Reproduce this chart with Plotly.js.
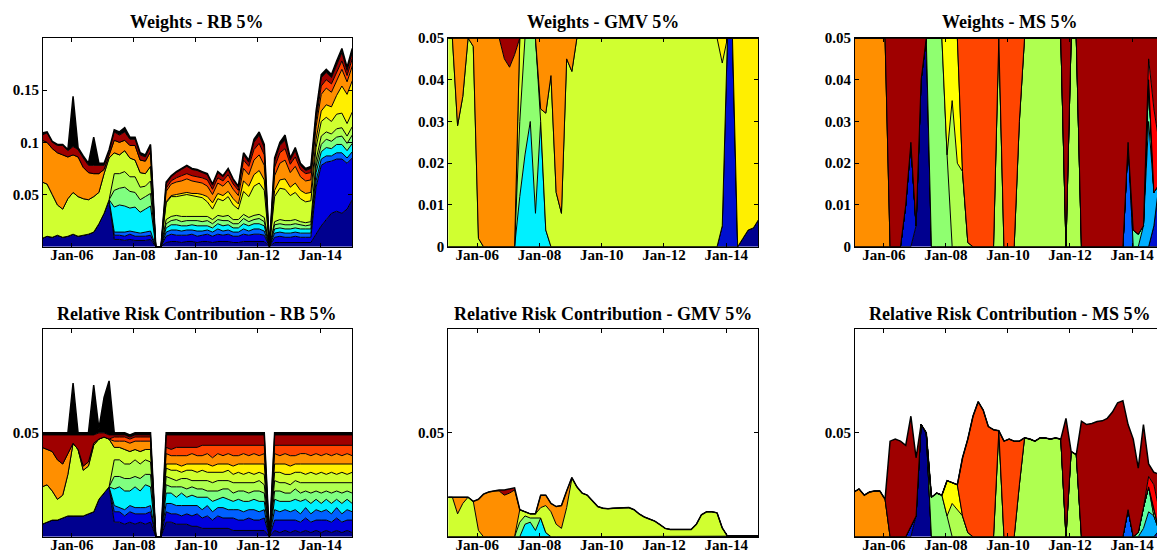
<!DOCTYPE html>
<html><head><meta charset="utf-8">
<script src="https://cdn.plot.ly/plotly-3.0.1.min.js"></script>
<style>html,body{margin:0;padding:0;overflow:hidden;background:#fff}#chart{width:1166px;height:554px}</style>
</head><body><div id="chart"></div>
<script>
// Sample dates: every two months, mid-month, Jan 2005 .. Jan 2015 (61 points)
const startYear = 2005, nPoints = 61;
const dates = [];
for (let k = 0; k < nPoints; k++) { const m = 2 * k; dates.push(`${startYear + Math.floor(m / 12)}-${String(m % 12 + 1).padStart(2, '0')}-15`); }

const xTickVals = ['2006-01-01', '2008-01-01', '2010-01-01', '2012-01-01', '2014-01-01'];
const xTickText = ['Jan-06', 'Jan-08', 'Jan-10', 'Jan-12', 'Jan-14'];
const titles = ['Weights - RB 5%', 'Weights - GMV 5%', 'Weights - MS 5%',
  'Relative Risk Contribution - RB 5%', 'Relative Risk Contribution - GMV 5%', 'Relative Risk Contribution - MS 5%'];

// All series values are in thousandths (0.001)
// ---- Weights - RB 5%
const rbW_navy = [8,10,9,11,9,10,12,10,11,12, 14,22,32,45,7,7,6,7,6,6, 6,7,0,0,4,5,5,4,5,5, 4,5,5,4,5,5,5,4,4,5, 5,5,5,5,0,4,4,4,4,4, 4,4,4,12,20,26,32,34,32,36, 45];
const rbW_blue = [0,0,0,0,0,0,0,0,0,0, 0,0,0,0,4,4,4,5,4,4, 4,4,0,0,6,7,6,7,6,7, 6,6,7,6,7,6,7,6,6,7, 6,7,7,6,0,5,6,5,5,6, 5,5,5,45,58,55,50,50,52,44, 40];
const rbW_dodger = [0,0,0,0,0,0,0,0,0,0, 0,0,0,0,3,3,4,3,4,3, 4,4,0,0,4,4,5,4,5,4, 5,4,4,4,5,4,4,4,4,5, 4,5,5,4,0,4,4,4,4,4, 4,4,4,6,6,6,5,6,6,5, 6];
const rbW_cyan = [0,0,0,0,0,0,0,0,0,0, 0,0,0,0,24,26,25,22,24,20, 22,24,0,0,4,5,5,5,4,5, 5,5,4,4,5,5,5,4,4,5, 5,5,5,5,0,4,4,4,4,4, 4,4,4,8,7,8,7,8,8,7, 8];
const rbW_aqua = [0,0,0,0,0,0,0,0,0,0, 0,0,0,0,16,16,18,16,14,12, 12,12,0,0,4,4,5,4,5,4, 5,4,5,4,4,5,4,4,4,5, 4,4,5,4,0,4,4,4,4,4, 4,3,4,6,7,8,7,7,8,7, 8];
const rbW_gy = [0,0,0,0,0,0,0,0,0,0, 0,0,0,0,16,14,15,14,15,12, 10,12,0,0,4,4,4,5,4,4, 4,5,4,4,4,4,5,4,4,4, 4,4,4,4,0,3,4,4,4,4, 3,3,3,6,8,7,7,8,8,7, 8];
const rbW_yg = [54,50,41,29,27,36,40,38,35,33, 34,30,38,40,20,18,20,18,16,14, 12,14,0,0,16,19,18,20,21,20, 19,18,14,10,16,15,18,14,10,22, 20,28,30,26,0,24,30,30,24,26, 22,20,20,12,14,14,12,14,14,12, 14];
const rbW_yel = [0,0,0,0,0,0,0,0,0,0, 0,0,0,0,0,0,0,0,0,0, 0,0,0,0,1,1,2,2,2,2, 3,3,5,6,5,5,5,6,5,10, 10,11,12,10,0,6,8,10,8,9, 8,8,8,8,10,12,14,18,26,28, 30];
const rbW_or = [40,40,44,50,52,40,36,38,30,26, 22,18,4,3,12,12,10,12,14,12, 12,14,0,0,10,11,12,12,13,12, 11,11,10,8,10,9,10,9,8,12, 11,14,15,14,0,14,16,18,14,16, 13,12,12,12,16,16,14,14,16,12, 14];
const rbW_ored = [0,0,0,0,0,0,0,0,0,0, 0,0,0,0,0,0,0,0,0,0, 0,0,0,0,3,3,4,5,5,5, 5,5,6,5,5,5,6,5,5,8, 8,10,11,10,0,8,10,11,8,9, 7,7,7,6,8,8,8,8,8,6, 7];
const rbW_dr = [5,9,6,7,9,6,8,7,9,7, 8,8,4,3,8,7,8,6,6,5, 4,5,0,0,4,4,5,6,7,6, 6,5,5,4,5,4,5,4,3,5, 4,7,8,7,0,6,7,8,4,6, 4,3,4,5,8,7,6,7,8,5, 6];
const rbW_rest = [2,1,1,1,1,1,48,2,2,2, 27,2,2,2,2,3,4,2,2,2, 2,2,0,0,2,1,1,1,1,1, 1,1,1,1,1,1,1,1,1,2, 2,3,3,3,0,3,3,5,2,3, 2,2,2,4,3,3,3,4,4,3, 4];

// ---- Relative Risk Contribution - RB 5%
const rbR_navy = [6,7,8,8,9,10,10,10,10,11, 12,18,21,24,7,7,6,7,6,7, 6,7,0,0,7,7,6,6,6,5, 5,4,4,4,4,4,4,3,3,3, 3,3,3,3,0,3,2,3,2,3, 2,3,2,3,2,3,2,3,2,3, 2];
const rbR_blue = [0,0,0,0,0,0,0,0,0,0, 0,0,0,0,5,5,4,5,5,4, 5,5,0,0,5,4,5,4,5,5, 6,5,6,4,6,5,5,6,5,5, 6,5,5,6,0,5,6,5,6,5, 5,6,5,5,6,5,5,6,5,5, 6];
const rbR_dodger = [0,0,0,0,0,0,0,0,0,0, 0,0,0,0,3,2,3,3,3,3, 3,3,0,0,4,5,4,5,4,5, 4,4,5,4,4,5,4,4,5,4, 4,5,4,4,0,5,4,5,4,5, 4,5,4,5,4,5,4,5,4,5, 4];
const rbR_cyan = [0,0,0,0,0,0,0,0,0,0, 0,0,0,0,8,10,9,7,10,8, 11,9,0,0,5,5,4,6,4,5, 4,6,4,5,4,5,5,4,5,5, 4,5,5,4,0,5,5,4,5,5, 6,4,5,5,4,5,5,4,5,5, 4];
const rbR_aqua = [0,0,0,0,0,0,0,0,0,0, 0,0,0,0,6,5,6,6,5,6, 5,6,0,0,4,3,5,3,4,4, 4,4,3,5,4,4,5,4,4,5, 4,4,5,4,0,4,5,4,4,5, 4,4,5,4,5,4,5,4,5,4, 5];
const rbR_gy = [0,0,0,0,0,0,0,0,0,0, 0,0,0,0,8,8,7,7,8,7, 7,6,0,0,4,4,3,4,5,3, 4,4,5,4,5,4,4,5,4,4, 5,4,5,4,0,5,4,5,4,4, 5,4,5,4,5,4,5,4,5,4, 5];
const rbR_yg = [18,18,14,10,11,20,35,32,22,23, 32,29,27,23,6,6,7,6,5,6, 5,6,0,0,4,4,5,3,4,5, 4,5,4,5,4,4,5,4,5,4, 5,4,4,5,0,4,5,4,5,4, 5,4,5,4,5,4,5,4,5,4, 5];
const rbR_yel = [0,0,0,0,0,0,0,0,0,0, 0,0,0,0,0,0,0,0,0,0, 0,0,0,0,2,3,3,3,3,3, 4,3,4,3,4,4,3,4,4,5, 4,5,4,5,0,4,4,5,4,4, 4,5,4,5,4,5,4,5,4,5, 4];
const rbR_or = [19,17,19,19,15,10,0,0,2,2, 1,0,0,0,3,3,4,4,4,5, 4,4,0,0,5,4,4,5,4,5, 4,4,5,4,5,4,5,5,4,5, 4,5,4,5,0,5,4,5,5,4, 5,5,4,5,4,5,4,5,4,5, 4];
const rbR_ored = [0,0,0,0,0,0,0,0,0,0, 0,0,0,0,2,2,2,2,2,2, 2,2,0,0,3,3,4,4,4,3, 4,5,4,6,4,5,4,5,5,4, 5,4,5,4,0,4,5,4,5,5, 4,4,5,4,5,4,5,4,5,4, 5];
const rbR_dr = [6,7,8,12,14,9,4,7,15,13, 4,3,2,2,1,1,1,1,1,1, 1,1,0,0,6,7,6,6,6,6, 6,5,5,5,5,5,5,5,5,5, 5,5,5,5,0,5,5,5,5,5, 5,5,5,5,5,5,5,5,5,5, 5];
const rbR_rest = [1,1,1,1,1,1,25,1,1,1, 24,2,17,26,1,1,1,1,1,1, 1,1,0,0,1,1,1,1,1,1, 1,1,1,1,1,1,1,1,1,1, 1,1,1,1,0,1,1,1,1,1, 1,1,1,1,1,1,1,1,1,1, 1];

// ---- Weights - GMV 5%
const gmvW_navy = [0,0,0,0,0,0,0,0,0,0, 0,0,0,0,0,0,0,0,0,0, 0,0,0,0,0,0,0,0,0,0, 0,0,0,0,0,0,0,0,0,0, 0,0,0,0,0,0,0,0,0,0, 0,0,0,0,0,0,0,2,4,4.5, 6.5];
const gmvW_blue = [0,0,0,0,0,0,0,0,0,0, 0,0,0,0,0,0,0,0,0,0, 0,0,0,0,0,0,0,0,0,0, 0,0,0,0,0,0,0,0,0,0, 0,0,0,0,0,0,0,0,0,0, 0,0,0,5,50,50,0,0,0,0, 0];
const gmvW_cyan = [0,0,0,0,0,0,0,0,0,0, 0,0,0,0,12,22,30,8,30,4, 0,0,0,0,0,0,0,0,0,0, 0,0,0,0,0,0,0,0,0,0, 0,0,0,0,0,0,0,0,0,0, 0,0,0,0,0,0,0,0,0,0, 0];
const gmvW_lgreen = [0,0,0,0,0,0,0,0,0,0, 0,0,0,0,18,28,20,42,0,0, 0,0,0,0,0,0,0,0,0,0, 0,0,0,0,0,0,0,0,0,0, 0,0,0,0,0,0,0,0,0,0, 0,0,0,0,0,0,0,0,0,0, 0];
const gmvW_yg = [50,50,29,36,50,48,2,0,0,0, 0,0,0,0,20,0,0,0,3,28, 41,13,8,45,42,50,50,50,50,50, 50,50,50,50,50,50,50,50,50,50, 50,50,50,50,50,50,50,50,50,50, 50,50,50,39,0,0,0,0,0,0, 0];
const gmvW_yel = [0,0,0,0,0,0,0,0,0,0, 0,0,0,0,0,0,0,0,0,0, 0,0,0,0,0,0,0,0,0,0, 0,0,0,0,0,0,0,0,0,0, 0,0,0,0,0,0,0,0,0,0, 0,0,0,6,0,0,50,48,46,45.5, 43.5];
const gmvW_or = [0,0,21,14,0,2,48,50,50,50, 50,45,43,46,0,0,0,0,17,18, 9,37,42,5,8,0,0,0,0,0, 0,0,0,0,0,0,0,0,0,0, 0,0,0,0,0,0,0,0,0,0, 0,0,0,0,0,0,0,0,0,0, 0];
const gmvW_dr = [0,0,0,0,0,0,0,0,0,0, 0,5,7,4,0,0,0,0,0,0, 0,0,0,0,0,0,0,0,0,0, 0,0,0,0,0,0,0,0,0,0, 0,0,0,0,0,0,0,0,0,0, 0,0,0,0,0,0,0,0,0,0, 0];

// ---- Relative Risk Contribution - GMV 5%
const gmvR_navy = [0,0,0,0,0,0,0,0,0,0, 0,0,0,0,0,0,0,0,0,0, 0,0,0,0,0,0,0,0,0,0, 0,0,0,0,0,0,0,0,0,0, 0,0,0,0,0,0,0,0,0,0, 0,0,0,0,0,0.3,0.3,0.3,0.3,0.3, 0.3];
const gmvR_blue = [0,0,0,0,0,0,0,0,0,0, 0,0,0,0,0,0,0,0,0,0, 0,0,0,0,0,0,0,0,0,0, 0,0,0,0,0,0,0,0,0,0, 0,0,0,0,0,0,0,0,0,0, 0,0,0,0.2,0.3,0,0,0,0,0, 0];
const gmvR_cyan = [0,0,0,0,0,0,0,0,0,0, 0,0,0,0,0,6,7,3,9,2, 0,0,0,0,0,0,0,0,0,0, 0,0,0,0,0,0,0,0,0,0, 0,0,0,0,0,0,0,0,0,0, 0,0,0,0,0,0,0,0,0,0, 0];
const gmvR_lgreen = [0,0,0,0,0,0,0,0,0,0, 0,0,0,0,7,4,2,6,0,0, 0,0,0,0,0,0,0,0,0,0, 0,0,0,0,0,0,0,0,0,0, 0,0,0,0,0,0,0,0,0,0, 0,0,0,0,0,0,0,0,0,0, 0];
const gmvR_yg = [19,19,11,16,19,17,3,0,0,0, 0,0,0,0,6,2,2,2,5,13, 12,6,4,14,28,24,21,20,17,14.5, 13.7,13.5,13.7,13.7,14,14,13,11,9.5,8.5, 7.5,5.8,4,3.5,3.5,3.5,3.5,3.5,6,10.5, 12,12,11.5,4,0,0,0,0,0,0, 0];
const gmvR_or = [0,0,8,3,0,0,15,20.5,21.5,22, 22,20,21,22.5,0,0,0,0,6,5, 4,8.5,11,8,0.5,0,0,0,0,0, 0,0,0,0,0,0,0,0,0,0, 0,0,0,0,0,0,0,0,0,0, 0,0,0,0,0,0,0,0,0,0, 0];
const gmvR_dr = [0,0,0,0,0,0,0,0,0,0, 0.5,2.5,2,1,0,0,0,0,0,0, 0,0,0,0,0,0,0,0,0,0, 0,0,0,0,0,0,0,0,0,0, 0,0,0,0,0,0,0,0,0,0, 0,0,0,0,0,0,0,0,0,0, 0];

// ---- Weights - MS 5%
const msW_navy = [0,0,0,0,0,0,0,0,0,0, 0,0,5,40,50,0,0,0,0,0, 0,0,0,0,0,0,0,0,0,0, 0,0,0,0,0,0,0,0,0,0, 0,0,0,0,0,0,0,0,0,0, 0,0,0,0,0,0,0,0,0,0, 0];
const msW_blue = [0,0,0,0,0,0,0,0,0,0, 10,25,0,0,0,0,0,0,0,0, 0,0,0,0,0,0,0,0,0,0, 0,0,0,0,0,0,0,0,0,0, 0,0,0,0,0,0,0,0,0,0, 0,0,0,0,0,0,0,0,5,15, 25];
const msW_dodger = [0,0,0,0,0,0,0,0,0,0, 0,0,0,0,0,0,0,0,0,0, 0,0,0,0,0,0,0,0,0,0, 0,0,0,0,0,0,0,0,0,0, 0,0,0,0,0,0,0,0,0,0, 0,0,0,25,0,0,0,0,0,0, 0];
const msW_lblue = [0,0,0,0,0,0,0,0,0,0, 0,0,0,0,0,0,0,0,0,0, 0,0,0,0,0,0,0,0,0,0, 0,0,0,0,0,0,0,0,0,0, 0,0,0,0,0,0,0,0,0,0, 0,0,0,0,0,0,5,30,8,0, 0];
const msW_aqua = [0,0,0,0,0,0,0,0,0,0, 0,0,0,0,0,0,0,0,0,0, 0,0,0,0,0,0,0,0,0,0, 0,0,0,0,0,0,0,0,0,0, 0,0,0,0,0,0,0,0,0,0, 0,0,0,0,4,3,0,10,0,0, 0];
const msW_lgreen = [0,0,0,0,0,0,0,0,0,0, 0,0,0,0,0,50,50,50,22,0, 0,0,0,0,0,0,0,0,0,0, 0,0,0,0,0,0,0,0,0,0, 0,0,0,0,0,0,0,0,0,0, 0,0,0,0,0,0,0,0,0,0, 0];
const msW_lime = [0,0,0,0,0,0,0,0,0,0, 0,0,0,0,0,0,0,0,0,35, 20,18,1,0,0,0,0,0,50,0, 0,0,30,50,50,50,50,50,50,50, 50,0,50,50,0,0,0,0,0,0, 0,0,0,0,0,0,0,0,0,0, 0];
const msW_yel = [0,0,0,0,0,0,0,0,0,0, 0,0,0,0,0,0,0,0,28,15, 30,0,0,0,0,0,0,0,0,0, 0,0,0,0,0,0,0,0,0,0, 0,0,0,0,0,0,0,0,0,0, 0,0,0,0,0,0,0,0,0,0, 0];
const msW_or = [50,50,50,50,50,50,50,0,0,0, 0,0,0,0,0,0,0,0,0,0, 0,0,0,0,0,0,0,0,0,0, 0,0,0,0,0,0,0,0,0,0, 0,0,0,0,0,0,0,0,0,0, 0,0,0,0,0,0,0,0,0,0, 0];
const msW_ored = [0,0,0,0,0,0,0,0,0,0, 0,0,0,0,0,0,0,0,0,0, 0,32,49,50,50,50,50,50,0,50, 50,50,20,0,0,0,0,0,0,0, 0,0,0,0,0,0,0,0,0,0, 0,0,0,0,0,0,0,0,0,0, 0];
const msW_red = [0,0,0,0,0,0,0,0,0,0, 0,0,0,0,0,0,0,0,0,0, 0,0,0,0,0,0,0,0,0,0, 0,0,0,0,0,0,0,0,0,0, 0,0,0,0,0,0,0,0,0,0, 0,0,0,0,0,0,0,5,20,10, 0];
const msW_dr = [0,0,0,0,0,0,0,50,50,50, 40,25,45,10,0,0,0,0,0,0, 0,0,0,0,0,0,0,0,0,0, 0,0,0,0,0,0,0,0,0,0, 0,50,0,0,50,50,50,50,50,50, 50,50,50,25,46,47,45,5,17,25, 25];

// ---- Relative Risk Contribution - MS 5%
const msR_navy = [0,0,0,0,0,0,0,0,0,0, 0,0,10,54,50,0,0,0,0,0, 0,0,0,0,0,0,0,0,0,0, 0,0,0,0,0,0,0,0,0,0, 0,0,0,0,0,0,0,0,0,0, 0,0,0,0,0,0,0,0,0,0, 0];
const msR_blue = [0,0,0,0,0,0,0,0,0,0, 0,5,0,0,0,0,0,0,0,0, 0,0,0,0,0,0,0,0,0,0, 0,0,0,0,0,0,0,0,0,0, 0,0,0,0,0,0,0,0,0,0, 0,0,0,0,0,0,0,0,0,3, 5];
const msR_dodger = [0,0,0,0,0,0,0,0,0,0, 0,0,0,0,0,0,0,0,0,0, 0,0,0,0,0,0,0,0,0,0, 0,0,0,0,0,0,0,0,0,0, 0,0,0,0,0,0,0,0,0,0, 0,0,0,13,0,0,0,0,0,0, 0];
const msR_lblue = [0,0,0,0,0,0,0,0,0,0, 0,0,0,0,0,0,0,0,0,0, 0,0,0,0,0,0,0,0,0,0, 0,0,0,0,0,0,0,0,0,0, 0,0,0,0,0,0,0,0,0,0, 0,0,0,0,0,0,4,12,10,0, 0];
const msR_aqua = [0,0,0,0,0,0,0,0,0,0, 0,0,0,0,0,0,0,0,0,0, 0,0,0,0,0,0,0,0,0,0, 0,0,0,0,0,0,0,0,0,0, 0,0,0,0,0,0,0,0,0,0, 0,0,0,0,0,2,10,12,0,0, 0];
const msR_lgreen = [0,0,0,0,0,0,0,0,0,0, 0,0,0,0,0,19,21,20,10,0, 0,0,0,0,0,0,0,0,0,0, 0,0,0,0,0,0,0,0,0,0, 0,0,0,0,0,0,0,0,0,0, 0,0,0,0,0,0,0,0,0,0, 0];
const msR_lime = [0,0,0,0,0,0,0,0,0,0, 0,0,0,0,0,0,0,0,0,16, 13,10,2,0,0,0,0,0,51,0, 0,0,25,47.6,47,46,47.6,47.5,47,47.5, 47,0,41,39.5,0,0,0,0,0,0, 0,0,0,0,0,0,0,0,3,0, 0];
const msR_yel = [0,0,0,0,0,0,0,0,0,0, 0,0,0,0,0,0,0,0,17,10, 12,0,0,0,0,0,0,0,0,0, 0,0,0,0,0,0,0,0,0,0, 0,0,0,0,0,0,0,0,0,0, 0,0,0,0,0,0,0,0,0,0, 0];
const msR_or = [21.5,23,20,21.5,22,22,18,0,0,0, 0,0,0,0,0,0,0,0,0,0, 0,0,0,0,0,0,0,0,0,0, 0,0,0,0,0,0,0,0,0,0, 0,0,0,0,0,0,0,0,0,0, 0,0,0,0,0,0,0,0,0,0, 0];
const msR_ored = [0,0,0,0,0,0,0,0,0,0, 0,0,0,0,0,0,0,0,0,0, 0,28,45,58,65,61,53,51.5,0,46, 47,46,21,0,0,0,0,0,0,0, 0,0,0,0,0,0,0,0,0,0, 0,0,0,0,0,0,0,0,0,0, 0];
const msR_red = [0,0,0,0,0,0,0,0,0,0, 0,0,0,0,0,0,0,0,0,0, 0,0,0,0,0,0,0,0,0,0, 0,0,0,0,0,0,0,0,0,0, 0,0,0,0,0,0,0,0,0,0, 0,0,0,0,0,0,0,5,12,10, 0];
const msR_dr = [0,0,0,0,0,0,0,46,47,46, 44,53,28,0,0,0,0,0,0,0, 0,0,0,0,0,0,0,0,0,0, 0,0,0,0,0,0,0,0,0,0, 0,57,0,0,55.6,54,54.5,55.5,55.8,57, 60,64.5,65.5,41,47,31,40,6,6,17, 25];

// ---------- drawing ----------
const FONT = '"Liberation Serif", "Times New Roman", Times, serif';
const C = { navy:'#00008F', blue:'#0000DF', blue2:'#0010CF', dodger:'#0060FF', lblue:'#00AFFF', cyan:'#00F0FF',
  aqua:'#80FF80', aqua2:'#60FFA0', lgreen:'#8FFF70', gy:'#AFFF50', lime:'#AFFF50', yg:'#D0FF30', yel:'#FFEF00',
  yel2:'#FFFF00', or:'#FF8F00', ored:'#FF4500', red:'#FF0000', dr:'#9F0000', rest:'#000000' };

const panels = [
  { series: [[rbW_navy,C.navy],[rbW_blue,C.blue],[rbW_dodger,C.dodger],[rbW_cyan,C.cyan],[rbW_aqua,C.aqua],[rbW_gy,C.gy],[rbW_yg,C.yg],[rbW_yel,C.yel],[rbW_or,C.or],[rbW_ored,C.ored],[rbW_dr,C.dr],[rbW_rest,C.rest]],
    yRange:[0,0.2], yTicks:[0.05,0.1,0.15], yText:['0.05','0.1','0.15'] },
  { series: [[gmvW_navy,C.navy],[gmvW_blue,C.blue2],[gmvW_cyan,C.cyan],[gmvW_lgreen,C.lgreen],[gmvW_yg,C.yg],[gmvW_yel,C.yel],[gmvW_or,C.or],[gmvW_dr,C.dr]],
    yRange:[0,0.05], yTicks:[0,0.01,0.02,0.03,0.04,0.05], yText:['0','0.01','0.02','0.03','0.04','0.05'] },
  { series: [[msW_navy,C.navy],[msW_blue,C.blue2],[msW_dodger,C.dodger],[msW_lblue,C.lblue],[msW_aqua,C.aqua2],[msW_lgreen,C.lgreen],[msW_lime,C.lime],[msW_yel,C.yel2],[msW_or,C.or],[msW_ored,C.ored],[msW_red,C.red],[msW_dr,C.dr]],
    yRange:[0,0.05], yTicks:[0,0.01,0.02,0.03,0.04,0.05], yText:['0','0.01','0.02','0.03','0.04','0.05'] },
  { series: [[rbR_navy,C.navy],[rbR_blue,C.blue],[rbR_dodger,C.dodger],[rbR_cyan,C.cyan],[rbR_aqua,C.aqua],[rbR_gy,C.gy],[rbR_yg,C.yg],[rbR_yel,C.yel],[rbR_or,C.or],[rbR_ored,C.ored],[rbR_dr,C.dr],[rbR_rest,C.rest]],
    yRange:[0,0.1], yTicks:[0.05], yText:['0.05'] },
  { series: [[gmvR_navy,C.navy],[gmvR_blue,C.blue2],[gmvR_cyan,C.cyan],[gmvR_lgreen,C.lgreen],[gmvR_yg,C.yg],[gmvR_or,C.or],[gmvR_dr,C.dr]],
    yRange:[0,0.1], yTicks:[0.05], yText:['0.05'] },
  { series: [[msR_navy,C.navy],[msR_blue,C.blue2],[msR_dodger,C.dodger],[msR_lblue,C.lblue],[msR_aqua,C.aqua2],[msR_lgreen,C.lgreen],[msR_lime,C.lime],[msR_yel,C.yel2],[msR_or,C.or],[msR_ored,C.ored],[msR_red,C.red],[msR_dr,C.dr]],
    yRange:[0,0.1], yTicks:[0.05], yText:['0.05'] }
];

const W = 1166, H = 554;
const colPx = [[43, 352], [448.3, 758.3], [855, 1164]];
const rowPx = [[38, 246.7], [329, 536.7]];
const titleY = [22, 314];

const traces = [];
const layout = { width: W, height: H, margin: {l:0, r:0, t:0, b:0}, showlegend: false,
  paper_bgcolor: '#fff', plot_bgcolor: '#fff', annotations: [] };
const tickFont = { family: FONT, size: 15, color: '#000', weight: 'bold' };

panels.forEach((p, i) => {
  const n = i + 1, col = i % 3, row = Math.floor(i / 3);
  const xa = 'x' + (n === 1 ? '' : n), ya = 'y' + (n === 1 ? '' : n);
  p.series.forEach(([vals, color], j) => {
    traces.push({ type: 'scatter', mode: 'lines', x: dates, y: vals.map(v => v / 1000),
      xaxis: xa, yaxis: ya, stackgroup: 'g' + n, fillcolor: color,
      line: { color: '#000', width: (j === p.series.length - 1) ? 1.5 : 1, shape: 'linear' },
      hoverinfo: 'skip' });
  });
  const xd = [colPx[col][0] / W, colPx[col][1] / W];
  const yd = [1 - rowPx[row][1] / H, 1 - rowPx[row][0] / H];
  layout['xaxis' + (n === 1 ? '' : n)] = { type: 'date', domain: xd, anchor: ya,
    range: ['2005-01-26', '2015-01-12'], tickmode: 'array', tickvals: xTickVals, ticktext: xTickText,
    ticks: 'inside', ticklen: 4, tickcolor: '#000', showline: true, linecolor: '#000', linewidth: 1,
    mirror: 'ticks', showgrid: false, zeroline: false, tickfont: tickFont, fixedrange: true,
    ticklabelstandoff: -6 };
  layout['yaxis' + (n === 1 ? '' : n)] = { domain: yd, anchor: xa, range: p.yRange,
    tickmode: 'array', tickvals: p.yTicks, ticktext: p.yText,
    ticks: 'inside', ticklen: 4, tickcolor: '#000', showline: true, linecolor: '#000', linewidth: 1,
    mirror: 'ticks', showgrid: false, zeroline: false, tickfont: tickFont, fixedrange: true };
  layout.annotations.push({ text: '<b>' + titles[i] + '</b>', xref: 'paper', yref: 'paper',
    x: (xd[0] + xd[1]) / 2, y: 1 - titleY[row] / H, xanchor: 'center', yanchor: 'middle',
    showarrow: false, font: { family: FONT, size: 18, color: '#000' } });
});

Plotly.newPlot('chart', traces, layout, { displayModeBar: false, staticPlot: true });
</script>
</body></html>
